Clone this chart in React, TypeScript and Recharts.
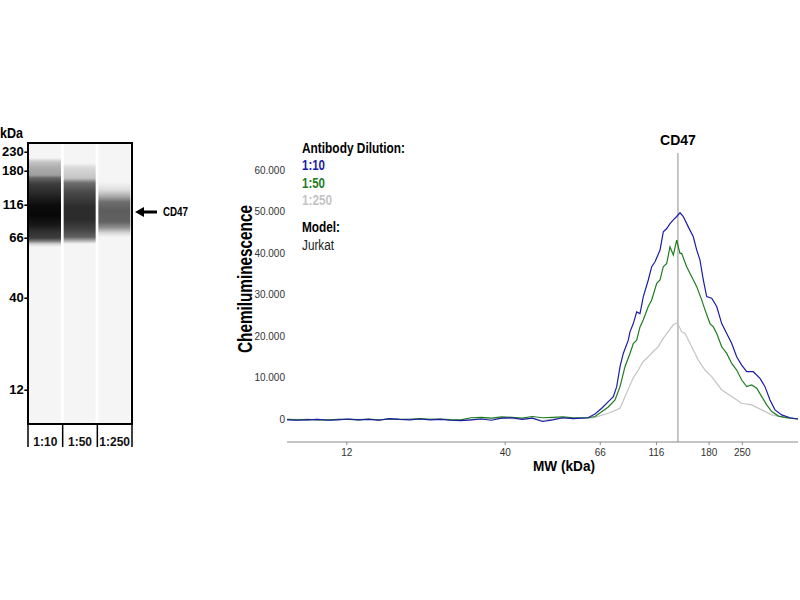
import React from "react";
import {
  LineChart,
  Line,
  XAxis,
  YAxis,
  ReferenceLine,
  BarChart,
  Bar,
  Cell,
} from "recharts";

// ---- electropherogram (right) ----
// capillary position 0-100, chemiluminescence in thousands
const basePos = [0, 2, 4, 6, 8, 10, 12, 14, 16, 18, 20, 22, 24, 26, 28, 30, 32, 34, 36, 38, 40, 42, 44, 46, 48, 50, 52, 54, 56];
const base10 = [-0.2, -0.3, -0.2, -0.1, -0.3, -0.2, 0, -0.2, -0.1, -0.3, 0.1, -0.1, -0.2, 0, -0.2, -0.1, -0.3, -0.4, -0.2, 0, -0.3, 0.2, 0.3, -0.1, 0.2, -0.6, -0.2, 0.3, 0.1];
const base50 = [-0.1, -0.2, -0.1, -0.2, -0.2, -0.1, -0.1, -0.2, 0, -0.2, 0, -0.1, -0.1, 0.1, -0.1, 0, -0.2, -0.2, 0.3, 0.4, 0.2, 0.5, 0.4, 0.2, 0.6, 0.3, 0.4, 0.5, 0.3];
const base250 = [-0.1, -0.1, -0.2, -0.1, -0.2, -0.1, -0.1, -0.1, -0.1, -0.2, 0, -0.1, -0.1, 0, -0.1, 0, -0.1, -0.2, -0.3, 0.1, 0, 0.2, 0.1, 0, 0.2, -0.4, 0, 0.2, 0.1];

const peakPos10 = [
  58.9, 60.27, 61.58, 62.88, 63.86, 64.52, 65.17, 65.81, 66.79, 67.12, 67.77, 68.43, 69.08, 69.73, 70.7, 71.37,
  72.02, 73.0, 73.64, 74.31, 74.95, 75.6, 76.26, 76.91, 77.55, 78.53, 79.51, 80.18, 80.82, 81.47, 82.13, 83.11,
  84.09, 85.07, 86.05, 87.03, 88.0, 88.98, 89.96, 91.25, 92.56, 93.54, 94.52, 95.5, 96.81, 98.43, 100,
];
const peak10 = [
  0.3, 1.2, 2.6, 4.2, 5.4, 7.8, 12.6, 15.8, 19.0, 21.0, 23.0, 25.8, 25.4, 29.5, 33.5, 36.7,
  37.9, 40.7, 45.1, 45.9, 47.1, 48.0, 48.8, 49.7, 48.8, 46.3, 43.9, 40.7, 38.3, 33.5, 29.5, 29.1,
  27.1, 23.0, 20.6, 18.2, 15.0, 13.0, 11.4, 11.4, 9.8, 7.8, 4.6, 2.2, 1.0, 0.3, 0,
];
const peakPos50 = [
  58.9, 60.27, 62.88, 64.19, 65.17, 66.14, 67.12, 67.77, 68.43, 69.08, 69.73, 70.7, 71.37, 72.35, 73.0, 73.64,
  74.31, 74.95, 75.6, 76.26, 76.57, 76.91, 77.24, 78.21, 79.2, 80.18, 81.15, 81.8, 82.78, 83.43, 84.09, 85.07,
  86.05, 87.03, 88.0, 88.98, 89.96, 90.94, 91.92, 92.9, 93.88, 94.86, 96.18, 98.43, 100,
];
const peak50 = [
  0.3, 0.6, 2.9, 4.6, 7.8, 12.6, 15.8, 18.2, 19.0, 22.2, 23.9, 27.1, 28.7, 32.7, 33.5, 36.7,
  37.5, 41.5, 39.5, 43.1, 41.5, 39.9, 39.9, 36.7, 34.3, 31.9, 28.7, 26.3, 23.0, 22.2, 20.6, 17.4,
  15.8, 13.4, 11.8, 9.4, 7.8, 8.2, 7.4, 5.4, 3.4, 1.8, 0.7, 0.2, 0,
];
const peakPos250 = [
  58.9, 60.27, 62.88, 65.17, 65.95, 66.79, 67.71, 68.75, 69.67, 70.7, 71.62, 72.65, 73.39, 74.31, 75.6, 76.26,
  76.57, 77.24, 77.89, 79.2, 80.49, 81.8, 83.11, 85.07, 87.03, 88.98, 90.94, 92.9, 94.86, 97.46, 100,
];
const peak250 = [
  0.2, 0.4, 1.4, 2.6, 4.8, 7.2, 9.8, 11.8, 13.8, 15.0, 16.2, 17.4, 19.0, 20.6, 22.7, 23.1,
  22.7, 21.0, 20.6, 17.4, 14.2, 11.8, 10.2, 7.0, 5.4, 3.8, 3.4, 2.2, 1.0, 0.3, 0,
];

const mwTickPos = [11.7, 42.7, 61.3, 72.3, 82.6, 89.1];
const mwTickLabels = ["12", "40", "66", "116", "180", "250"];
const signalTicks = [0, 10, 20, 30, 40, 50, 60];
const cd47Pos = 76.5;

// ---- blot image (left) ----
const lanes = ["1:10", "1:50", "1:250"];
const markerPos = [3.1, 9.9, 21.8, 33.7, 55.1, 87.6];
const markerLabels = ["230", "180", "116", "66", "40", "12"];
// band darkness (0 = empty lane, 1 = black) along the lane
const lane1Pos = [5.3, 6.8, 8.9, 11.4, 12.5, 14.6, 18.5, 22.1, 25.6, 29.2, 31.7, 33.8, 34.9, 35.9, 37.0];
const lane1Dark = [0, 0.2, 0.3, 0.35, 0.6, 0.75, 0.85, 0.95, 0.97, 0.9, 0.8, 0.75, 0.5, 0.15, 0];
const lane2Pos = [7.1, 8.9, 12.5, 14.2, 17.4, 22.8, 27.4, 31.0, 33.5, 34.5, 35.9];
const lane2Dark = [0, 0.12, 0.2, 0.55, 0.7, 0.82, 0.82, 0.72, 0.6, 0.35, 0];
const lane3Pos = [13.9, 16.7, 18.9, 21.0, 23.8, 28.1, 30.2, 32.0, 33.5];
const lane3Dark = [0, 0.1, 0.3, 0.55, 0.62, 0.6, 0.4, 0.12, 0];

const BLUE = "#1c1ca8";
const GREEN = "#1e7d1e";
const GRAY = "#c4c4c4";
const FONT = "'Liberation Sans', Arial, sans-serif";

function series(pos: number[], vals: number[], pPos: number[], pVals: number[]) {
  return pos.map((p, i) => ({ pos: p, v: vals[i] })).concat(pPos.map((p, i) => ({ pos: p, v: pVals[i] })));
}
const trace10 = series(basePos, base10, peakPos10, peak10);
const trace50 = series(basePos, base50, peakPos50, peak50);
const trace250 = series(basePos, base250, peakPos250, peak250);

const laneRows = lanes.map((l) => ({ lane: l, span: [0, 100] }));
const laneProfiles = [
  { pos: lane1Pos, dark: lane1Dark },
  { pos: lane2Pos, dark: lane2Dark },
  { pos: lane3Pos, dark: lane3Dark },
];

function grayOf(d: number) {
  const v = Math.round(245 * (1 - d));
  const h = v.toString(16).padStart(2, "0");
  return `#${h}${h}${h}`;
}

// blot frame, in page coordinates
const BLOT = { left: 28, top: 143, width: 104, height: 281 };

const LaneTick = (props: any) => {
  const { x, y, payload, index } = props;
  const half = BLOT.width / lanes.length / 2;
  return (
    <g>
      <line x1={x - half} x2={x - half} y1={y} y2={y + 23} stroke="#000" strokeWidth={1.5} />
      {index === lanes.length - 1 && (
        <line x1={x + half} x2={x + half} y1={y} y2={y + 23} stroke="#000" strokeWidth={1.5} />
      )}
      <text x={x} y={y + 22} textAnchor="middle" fontSize={12} fontWeight="bold" fill="#111" fontFamily={FONT}>
        {payload.value}
      </text>
    </g>
  );
};

export default function App() {
  return (
    <div style={{ position: "absolute", left: 0, top: 0, width: 800, height: 600, background: "#fff", fontFamily: FONT }}>
      <div style={{ position: "absolute", left: 0, top: 120 }}>
        <BarChart width={140} height={340} data={laneRows} margin={{ top: 23, right: 8, left: 0, bottom: 12 }} barSize={32}>
          <defs>
            {laneProfiles.map((lp, i) => (
              <linearGradient key={i} id={`lane${i}`} x1="0" y1="0" x2="0" y2="1">
                {lp.pos.map((p, j) => (
                  <stop key={j} offset={`${p}%`} stopColor={grayOf(lp.dark[j])} />
                ))}
              </linearGradient>
            ))}
          </defs>
          <XAxis
            dataKey="lane"
            height={24}
            axisLine={false}
            tickLine={false}
            tickSize={0}
            tickMargin={0}
            tick={<LaneTick />}
            interval={0}
          />
          <YAxis
            type="number"
            domain={[0, 100]}
            reversed
            width={28}
            ticks={markerPos}
            tickFormatter={(v: number) => `${markerLabels[markerPos.indexOf(v)]}-`}
            tick={{ fontSize: 13, fontWeight: "bold", fill: "#000", fontFamily: FONT }}
            tickLine={false}
            tickSize={0}
            tickMargin={0}
            axisLine={false}
            interval={0}
          />
          <Bar dataKey="span" isAnimationActive={false}>
            {laneRows.map((r, i) => (
              <Cell key={r.lane} fill={`url(#lane${i})`} />
            ))}
          </Bar>
        </BarChart>
      </div>

      <div style={{ position: "absolute", left: 230, top: 120 }}>
        <LineChart width={570} height={360} margin={{ top: 33, right: 2, left: 0, bottom: 8 }}>
          <XAxis
            type="number"
            dataKey="pos"
            domain={[0, 100]}
            ticks={mwTickPos}
            tickFormatter={(v: number) => mwTickLabels[mwTickPos.indexOf(v)]}
            height={30}
            tickSize={3}
            tickMargin={4}
            axisLine={{ stroke: "#8a8a8a" }}
            tickLine={{ stroke: "#8a8a8a" }}
            tick={{ fontSize: 10, fill: "#333", fontFamily: FONT }}
            interval={0}
            allowDuplicatedCategory={false}
          />
          <YAxis
            type="number"
            domain={[-5.54, 64.1]}
            ticks={signalTicks}
            tickFormatter={(v: number) => (v === 0 ? "0" : `${v}.000`)}
            width={57}
            axisLine={false}
            tickLine={false}
            tickSize={0}
            tickMargin={2}
            tick={{ fontSize: 10, fill: "#333", fontFamily: FONT }}
            interval={0}
          />
          <ReferenceLine
            x={cd47Pos}
            stroke="#a0a0a0"
            strokeWidth={1.2}
            label={{ value: "CD47", position: "top", offset: 8, fill: "#000", fontSize: 14, fontWeight: "bold", fontFamily: FONT }}
          />
          <Line data={trace250} type="linear" dataKey="v" stroke={GRAY} strokeWidth={1.2} dot={false} isAnimationActive={false} />
          <Line data={trace50} type="linear" dataKey="v" stroke={GREEN} strokeWidth={1.2} dot={false} isAnimationActive={false} />
          <Line data={trace10} type="linear" dataKey="v" stroke={BLUE} strokeWidth={1.2} dot={false} isAnimationActive={false} />
        </LineChart>
      </div>

      <svg width={800} height={600} style={{ position: "absolute", left: 0, top: 0, pointerEvents: "none" }} fontFamily={FONT}>
        <rect x={BLOT.left} y={BLOT.top} width={BLOT.width} height={BLOT.height} fill="none" stroke="#000" strokeWidth={2} />
        <text x={0} y={138} fontSize={14} fontWeight="bold" textLength={23} lengthAdjust="spacingAndGlyphs">kDa</text>
        <line x1={142} x2={157} y1={212} y2={212} stroke="#000" strokeWidth={3} />
        <polygon points="135,212 144,207 144,217" fill="#000" />
        <text x={163} y={216} fontSize={12} fontWeight="bold" textLength={25} lengthAdjust="spacingAndGlyphs">CD47</text>

        <text x={302} y={153} fontSize={14} fontWeight="bold" textLength={103} lengthAdjust="spacingAndGlyphs">Antibody Dilution:</text>
        <text x={302} y={170} fontSize={14} fontWeight="bold" fill={BLUE} textLength={23} lengthAdjust="spacingAndGlyphs">1:10</text>
        <text x={302} y={188} fontSize={14} fontWeight="bold" fill={GREEN} textLength={23} lengthAdjust="spacingAndGlyphs">1:50</text>
        <text x={302} y={205} fontSize={14} fontWeight="bold" fill={GRAY} textLength={30} lengthAdjust="spacingAndGlyphs">1:250</text>
        <text x={302} y={232} fontSize={14} fontWeight="bold" textLength={38} lengthAdjust="spacingAndGlyphs">Model:</text>
        <text x={302} y={250} fontSize={14} fill="#222" textLength={32} lengthAdjust="spacingAndGlyphs">Jurkat</text>

        <text
          x={252}
          y={279}
          transform="rotate(-90 252 279)"
          textAnchor="middle"
          fontSize={21}
          fontWeight="bold"
          textLength={148}
          lengthAdjust="spacingAndGlyphs"
        >
          Chemiluminescence
        </text>
        <text x={564} y={471} textAnchor="middle" fontSize={15} fontWeight="bold" textLength={62} lengthAdjust="spacingAndGlyphs">
          MW (kDa)
        </text>
      </svg>
    </div>
  );
}
